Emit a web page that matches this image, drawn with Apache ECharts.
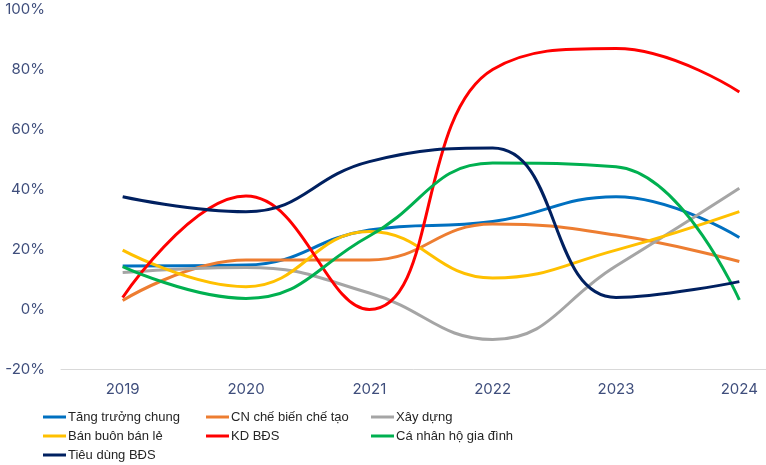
<!DOCTYPE html>
<html>
<head>
<meta charset="utf-8">
<script src="https://cdn.jsdelivr.net/npm/echarts@6/dist/echarts.min.js"></script>
<style>
  html, body { margin: 0; padding: 0; background: #fff; }
  #chart { width: 766px; height: 465px; }
</style>
</head>
<body>
<div id="chart"></div>
<script>
// Credit growth by sector, 2019–2024 (%)
const years = ['2019', '2020', '2021', '2022', '2023', '2024'];

const tangTruongChung = [14.5, 14.8, 26.5, 29.3, 37.6, 24.0];
const cnCheBien      = [3.0, 16.5, 16.5, 28.5, 24.8, 16.0];
const xayDung        = [12.3, 14.0, 5.5, -10.0, 14.5, 40.4];
const banBuonBanLe   = [19.8, 7.6, 26.0, 10.5, 19.8, 32.6];
const kdBds          = [4.0, 37.8, 0.0, 80.0, 87.0, 72.5];
const caNhanHoGD     = [14.3, 3.7, 24.5, 48.8, 47.6, 3.2];
const tieuDungBds    = [37.6, 32.6, 49.3, 53.8, 4.0, 9.3];

const seriesDefs = [
  { name: 'Tăng trưởng chung',   data: tangTruongChung, color: '#0070C0' },
  { name: 'CN chế biến chế tạo', data: cnCheBien,       color: '#ED7D31' },
  { name: 'Xây dựng',            data: xayDung,         color: '#A5A5A5' },
  { name: 'Bán buôn bán lẻ',     data: banBuonBanLe,    color: '#FFC000' },
  { name: 'KD BĐS',              data: kdBds,           color: '#FF0000' },
  { name: 'Cá nhân hộ gia đình', data: caNhanHoGD,      color: '#00B050' },
  { name: 'Tiêu dùng BĐS',       data: tieuDungBds,     color: '#002060' }
];

const FONT = 'Inter, "Noto Sans", sans-serif';
const LEGEND_FONT = '"Liberation Sans", Arial, sans-serif';

// legend grid: three columns, three rows
const legendCols = [43, 206, 371];
const legendRows = [417, 436, 455];

const chart = echarts.init(document.getElementById('chart'), null, { renderer: 'canvas' });

const legends = seriesDefs.map((s, i) => ({
  left: legendCols[i % 3],
  top: legendRows[Math.floor(i / 3)] - 8,
  itemWidth: 23,
  itemHeight: 3,
  icon: 'rect',
  padding: 0,
  data: [s.name],
  textStyle: { fontFamily: LEGEND_FONT, fontSize: 13, color: '#262626', lineHeight: 16, padding: [0, 0, 0, -3] }
}));

chart.setOption({
  animation: false,
  backgroundColor: '#ffffff',
  textStyle: { fontFamily: FONT },
  grid: { left: 61, top: 9.5, width: 740, height: 360, containLabel: false, outerBoundsMode: 'none' },
  legend: legends,
  xAxis: [
    {
      type: 'category',
      data: years,
      boundaryGap: true,
      axisLine: { show: false },
      axisTick: { show: false },
      axisLabel: { fontFamily: FONT, fontSize: 15, color: '#3F4E7C', margin: 12 }
    },
    {
      // zero baseline
      type: 'category',
      data: years,
      position: 'bottom',
      axisLine: { show: true, onZero: true, lineStyle: { color: '#D9D9D9', width: 1 } },
      axisTick: { show: false },
      axisLabel: { show: false },
      splitLine: { show: false }
    }
  ],
  yAxis: {
    type: 'value',
    min: -20,
    max: 100,
    interval: 20,
    axisLine: { show: false },
    axisTick: { show: false },
    axisLabel: { fontFamily: FONT, fontSize: 15, color: '#3F4E7C', margin: 16, formatter: '{value}%' },
    splitLine: { show: false }
  },
  series: seriesDefs.map(s => ({
    name: s.name,
    type: 'line',
    data: s.data,
    smooth: 0.45,
    symbol: 'none',
    color: s.color,
    lineStyle: { color: s.color, width: 3 }
  }))
});
</script>
</body>
</html>
